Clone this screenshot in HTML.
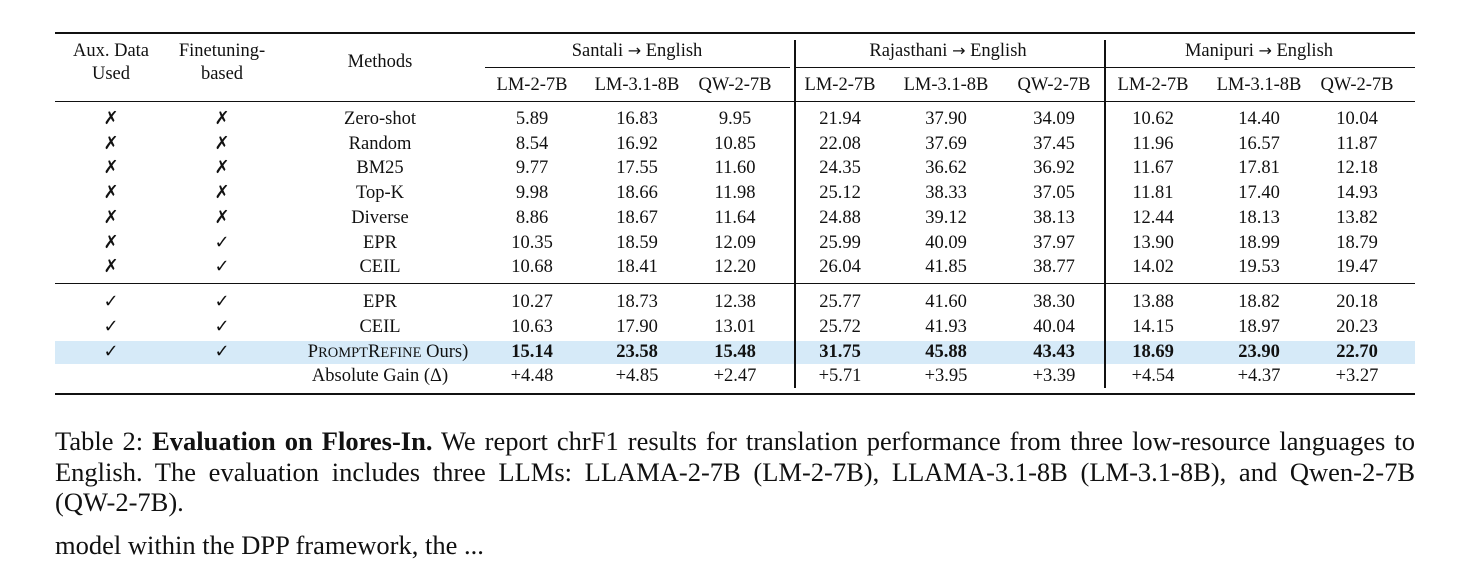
<!DOCTYPE html>
<html><head><meta charset="utf-8">
<style>
body{margin:0;background:#fff;width:1479px;height:548px;overflow:hidden;position:relative;font-family:"Liberation Serif","DejaVu Serif",serif;color:#111}
.t{position:absolute;font-size:18.5px;line-height:22px;white-space:nowrap;transform:translateX(-50%);text-align:center}
.rule{position:absolute;background:#111}
.cap{position:absolute;left:55px;width:1360px;font-size:26.5px;line-height:30.5px;text-align:justify}
.sc{font-size:14.5px}
b{font-weight:bold}
.ar{font-family:"DejaVu Sans",sans-serif;font-size:16px}
</style></head><body>
<div class="rule" style="left:55px;top:32px;width:1360px;height:2px"></div>
<div class="rule" style="left:55px;top:101px;width:1360px;height:1px"></div>
<div class="rule" style="left:55px;top:283px;width:1360px;height:1px"></div>
<div class="rule" style="left:55px;top:393px;width:1360px;height:2px"></div>
<div class="rule" style="left:485px;top:67px;width:305px;height:1px"></div>
<div class="rule" style="left:796px;top:67px;width:308px;height:1px"></div>
<div class="rule" style="left:1106px;top:67px;width:309px;height:1px"></div>
<div class="rule" style="left:55px;top:341px;width:1360px;height:23px;background:#d6eaf8"></div>
<div class="rule" style="left:794px;top:40px;width:2px;height:348px"></div>
<div class="rule" style="left:1104px;top:40px;width:2px;height:348px"></div>

<div class="t" style="left:111px;top:40px;line-height:23px">Aux. Data<br>Used</div>
<div class="t" style="left:222px;top:40px;line-height:23px">Finetuning-<br>based</div>
<div class="t" style="left:380px;top:51px">Methods</div>
<div class="t" style="left:637px;top:40px">Santali <span class="ar">→</span> English</div>
<div class="t" style="left:948px;top:40px">Rajasthani <span class="ar">→</span> English</div>
<div class="t" style="left:1259px;top:40px">Manipuri <span class="ar">→</span> English</div>

<div id="tbl"></div>

<div class="cap" style="top:426px">Table 2: <b>Evaluation on Flores-In.</b> We report chrF1 results for translation performance from three low-resource languages to English. The evaluation includes three LLMs: LLAMA-2-7B (LM-2-7B), LLAMA-3.1-8B (LM-3.1-8B), and Qwen-2-7B (QW-2-7B).</div>
<div class="cap" style="top:530px;text-align:left">model within the DPP framework, the ...</div>

<script>
const colX=[532,637,735,840,946,1054,1153,1259,1357];
const models=["LM-2-7B","LM-3.1-8B","QW-2-7B","LM-2-7B","LM-3.1-8B","QW-2-7B","LM-2-7B","LM-3.1-8B","QW-2-7B"];
const methods=["Zero-shot","Random","BM25","Top-K","Diverse","EPR","CEIL","EPR","CEIL","PROMPTREFINE","Absolute Gain (Δ)"];
const aux=["x","x","x","x","x","x","x","c","c","c",""];
const fine=["x","x","x","x","x","c","c","c","c","c",""];
const values=[
["5.89","16.83","9.95","21.94","37.90","34.09","10.62","14.40","10.04"],
["8.54","16.92","10.85","22.08","37.69","37.45","11.96","16.57","11.87"],
["9.77","17.55","11.60","24.35","36.62","36.92","11.67","17.81","12.18"],
["9.98","18.66","11.98","25.12","38.33","37.05","11.81","17.40","14.93"],
["8.86","18.67","11.64","24.88","39.12","38.13","12.44","18.13","13.82"],
["10.35","18.59","12.09","25.99","40.09","37.97","13.90","18.99","18.79"],
["10.68","18.41","12.20","26.04","41.85","38.77","14.02","19.53","19.47"],
["10.27","18.73","12.38","25.77","41.60","38.30","13.88","18.82","20.18"],
["10.63","17.90","13.01","25.72","41.93","40.04","14.15","18.97","20.23"],
["15.14","23.58","15.48","31.75","45.88","43.43","18.69","23.90","22.70"],
["+4.48","+4.85","+2.47","+5.71","+3.95","+3.39","+4.54","+4.37","+3.27"]];
const rowY=[108,133,157,182,207,232,256,291,316,341,365];
const tbl=document.getElementById('tbl');
function cell(x,y,html,bold){const d=document.createElement('div');d.className='t';d.style.left=x+'px';d.style.top=y+'px';d.innerHTML=html;if(bold)d.style.fontWeight='bold';tbl.appendChild(d);return d;}
models.forEach((m,i)=>{const d=cell(colX[i],74,m);

});
const sym={x:'<span style="font-family:DejaVu Sans;font-size:18px;font-weight:bold">✗</span>',c:'<span style="font-family:DejaVu Sans;font-size:18px;font-weight:bold">✓</span>',"":""};
methods.forEach((m,r)=>{
 const y=rowY[r];
 const a=cell(111,y,sym[aux[r]]);
 
 
 const f=cell(222,y,sym[fine[r]]);
 
 
 const label=m==="PROMPTREFINE"?'P<span class="sc">ROMPT</span>R<span class="sc">EFINE</span> Ours)':m;
 const mc=cell(m==="PROMPTREFINE"?388:380,y,label);
 
 
 values[r].forEach((v,i)=>{const c=cell(colX[i],y,v,r===9);
 
 });
});
</script>
</body></html>
